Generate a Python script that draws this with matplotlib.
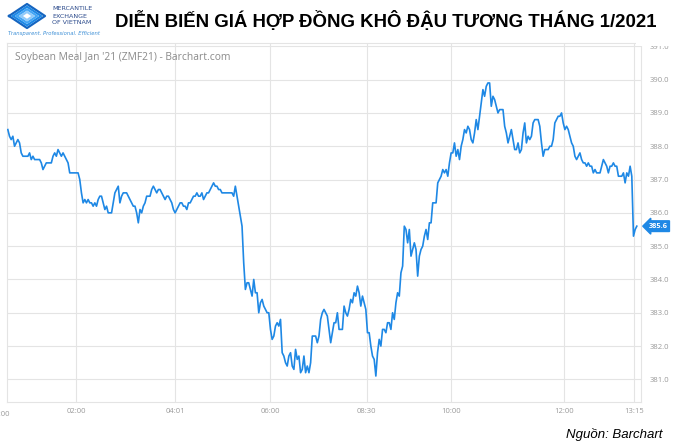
import matplotlib
matplotlib.use("Agg")
import matplotlib.pyplot as plt
from matplotlib.patches import Rectangle
from matplotlib.lines import Line2D
import numpy as np

# ZMF21 intraday prices (equal bar spacing)
prices = [
    388.5, 388.3, 388.2, 388.3, 388.0, 388.1, 388.2, 388.1, 387.8, 387.7,
    387.7, 387.7, 387.7, 387.8, 387.6, 387.7, 387.6, 387.6, 387.6, 387.6,
    387.5, 387.3, 387.4, 387.5, 387.5, 387.5, 387.5, 387.7, 387.8, 387.7,
    387.9, 387.8, 387.7, 387.8, 387.7, 387.6, 387.5, 387.2, 387.2, 387.2,
    387.2, 387.2, 387.2, 387.0, 386.6, 386.3, 386.4, 386.3, 386.4, 386.3,
    386.3, 386.2, 386.3, 386.2, 386.4, 386.5, 386.5, 386.3, 386.1, 386.2,
    386.0, 386.0, 386.0, 386.3, 386.6, 386.7,
    386.8, 386.3, 386.5, 386.6, 386.6, 386.6, 386.5, 386.4, 386.3, 386.2,
    386.2, 386.0, 385.7, 386.1, 386.0, 386.2, 386.3, 386.5, 386.5, 386.5,
    386.7, 386.8, 386.7, 386.6, 386.7, 386.7, 386.6, 386.5, 386.4, 386.5,
    386.5, 386.4, 386.3, 386.1, 386.0, 386.1, 386.2, 386.3, 386.3, 386.2,
    386.2, 386.1, 386.3, 386.3, 386.4, 386.5, 386.5, 386.6, 386.5, 386.5,
    386.6, 386.4, 386.5, 386.6, 386.6, 386.7, 386.8, 386.9, 386.8, 386.8,
    386.7, 386.7, 386.6, 386.6, 386.6, 386.6, 386.6, 386.6, 386.6, 386.5,
    386.8, 386.5, 386.2, 385.9, 385.6,
    384.5, 383.7, 383.9, 383.9, 383.7, 383.5, 384.0, 383.6, 383.6, 383.0,
    383.3, 383.4, 383.2, 383.1, 383.0, 383.0, 382.5, 382.2, 382.3, 382.6,
    382.7, 382.6, 382.8, 381.8, 381.7, 381.5, 381.4, 381.7, 381.8, 381.4,
    381.3, 381.9, 381.6, 381.7, 381.2, 381.3, 381.7, 381.2, 381.4, 381.2,
    381.5, 382.3, 382.3, 382.3, 382.1, 382.3, 382.8, 383.0, 383.1, 383.0,
    382.9, 382.5, 382.1, 382.4, 382.7, 382.7, 383.0, 382.5, 382.5, 382.5,
    383.2, 383.0, 382.9, 383.1, 383.4, 383.3, 383.6, 383.5, 383.8, 383.6,
    383.2, 383.5, 383.3, 383.1, 382.4,
    382.4, 382.0, 381.7, 381.6, 381.1, 381.8, 382.2, 382.0, 382.5, 382.5,
    382.4, 382.7, 382.7, 382.5, 383.0, 382.8, 383.3, 383.6, 383.5, 384.2,
    384.4, 385.6, 385.5, 385.1, 385.5, 384.7, 384.9, 385.1, 384.9, 384.1,
    384.7, 384.9, 385.0, 385.3, 385.5, 385.2, 385.7, 385.7, 386.3, 386.3,
    386.3, 386.9, 387.0, 387.1, 387.3, 387.2, 387.3, 387.1, 387.5, 387.8,
    387.8, 388.1, 387.7, 387.9, 387.6, 388.0, 388.2, 388.5, 388.4, 388.6,
    388.5, 388.2, 388.1, 388.4, 388.8, 388.5, 388.9, 389.3, 389.7, 389.5,
    389.8, 389.9, 389.9,
    389.2, 389.5, 389.4, 389.2, 389.0, 389.1, 389.1, 389.1, 388.6, 388.4,
    388.1, 388.3, 388.5, 388.2, 387.9, 387.9, 388.1, 387.8, 387.9, 388.4,
    388.7, 388.1, 388.3, 388.2, 388.3, 388.7, 388.8, 388.8, 388.8, 388.6,
    388.1, 387.7, 387.9, 387.9, 387.9, 388.0, 388.0, 388.2, 388.7, 388.8,
    388.9, 388.9, 389.0, 388.7, 388.5, 388.6, 388.5, 388.3, 388.1, 388.0,
    387.7, 387.6, 387.7, 387.8, 387.6, 387.5, 387.5, 387.4, 387.5, 387.4,
    387.4, 387.2, 387.3, 387.2, 387.2, 387.2, 387.4, 387.6, 387.5, 387.4,
    387.2, 387.4, 387.4, 387.5, 387.4, 387.4, 387.1, 387.1, 387.1, 387.2,
    386.9, 387.2, 387.1, 387.4, 387.1, 385.3, 385.5, 385.6,
]

# bar index where each time label sits
time_ticks = [41, 100, 157, 214.6, 265, 332.6, 374.5]
time_labels = ["02:00", "04:01", "06:00", "08:30", "10:00", "12:00", "13:15"]
price_ticks = [381.0, 382.0, 383.0, 384.0, 385.0, 386.0, 387.0, 388.0, 389.0, 390.0, 391.0]

W, H = 673, 448
BLUE = "#1e88e5"
GRID = "#e4e4e4"
LABEL = "#9a9a9a"

fig = plt.figure(figsize=(W / 100, H / 100), dpi=100)
fig.patch.set_facecolor("white")


def fx(x):
    return x / W


def fy(y):
    return 1 - y / H


ax = fig.add_axes([fx(7), fy(402), (641 - 7) / W, (402 - 43) / H])
x = np.arange(len(prices))
ax.plot(x, prices, color=BLUE, lw=1.2, zorder=3)

ax.set_xlim(-0.5, 378.5)
ax.set_ylim(380.32, 391.1)
ax.set_xticks(time_ticks)
ax.set_xticklabels(time_labels)
ax.set_yticks(price_ticks)
ax.set_yticklabels([f"{v:.1f}" for v in price_ticks])
ax.yaxis.tick_right()
ax.tick_params(axis="both", length=0, labelsize=5.5, labelcolor=LABEL)
ax.tick_params(axis="x", pad=4)
ax.tick_params(axis="y", pad=6)
for lab in ax.get_xticklabels() + ax.get_yticklabels():
    lab.set_family("Open Sans")
ax.grid(True, color=GRID, lw=0.8, zorder=0)
for sp in ax.spines.values():
    sp.set_color(GRID)
    sp.set_linewidth(0.8)

# first time label, cut by the left edge of the picture
ax.text(-4.5, -0.025, "00:00", transform=ax.get_xaxis_transform(), ha="center", va="top",
        fontsize=5.5, color=LABEL, family="Open Sans")

ax.text(0.013, 0.96, "Soybean Meal Jan '21 (ZMF21) - Barchart.com", transform=ax.transAxes,
        ha="left", va="center", fontsize=7.4, color="#8a8a8a", family="Open Sans")

# last price tag
last = prices[-1]
ax.text(1.012, last, f"{last:.1f}", transform=ax.get_yaxis_transform(), ha="left", va="center",
        fontsize=5.3, color="white", weight="bold", family="Open Sans", zorder=5, clip_on=False,
        bbox=dict(boxstyle="larrow,pad=0.25", fc=BLUE, ec=BLUE))

# top of the screenshot is cropped through the 391.0 label
fig.patches.append(Rectangle((fx(636), fy(46)), fx(37), 46 / H, transform=fig.transFigure,
                             fc="white", ec="none", zorder=10))

# header
fig.text(fx(386), fy(27), "DIỄN BIẾN GIÁ HỢP ĐỒNG KHÔ ĐẬU TƯƠNG THÁNG 1/2021", ha="center",
         va="baseline", fontsize=13.4, weight="bold", color="black", family="Liberation Sans",
         zorder=11)

# logo
for k, col in enumerate(["#1565c0", "#1e88e5", "#42a5f5", "#90caf9"]):
    s = 1 - k * 0.22
    cx, cy, hw, hh = 27, 16, 18 * s, 12 * s
    xs = [cx - hw, cx, cx + hw, cx, cx - hw]
    ys = [cy, cy - hh, cy, cy + hh, cy]
    fig.add_artist(Line2D([fx(v) for v in xs], [fy(v) for v in ys], color=col, lw=1.6,
                          transform=fig.transFigure))
for i, word in enumerate(["MERCANTILE", "EXCHANGE", "OF VIETNAM"]):
    fig.text(fx(52), fy(9 + 7 * i), word, ha="left", va="center", fontsize=4.6,
             color="#2b4a8b", family="Liberation Sans Narrow")
fig.text(fx(8), fy(34), "Transparent. Professional. Efficient", ha="left", va="center",
         fontsize=3.8, color="#3d8fd6", style="italic", family="Liberation Sans Narrow")

fig.text(fx(662), fy(438), "Nguồn: Barchart", ha="right", va="baseline", fontsize=9.5,
         style="italic", color="black", family="Liberation Sans")

fig.savefig("out.png", dpi=100)
